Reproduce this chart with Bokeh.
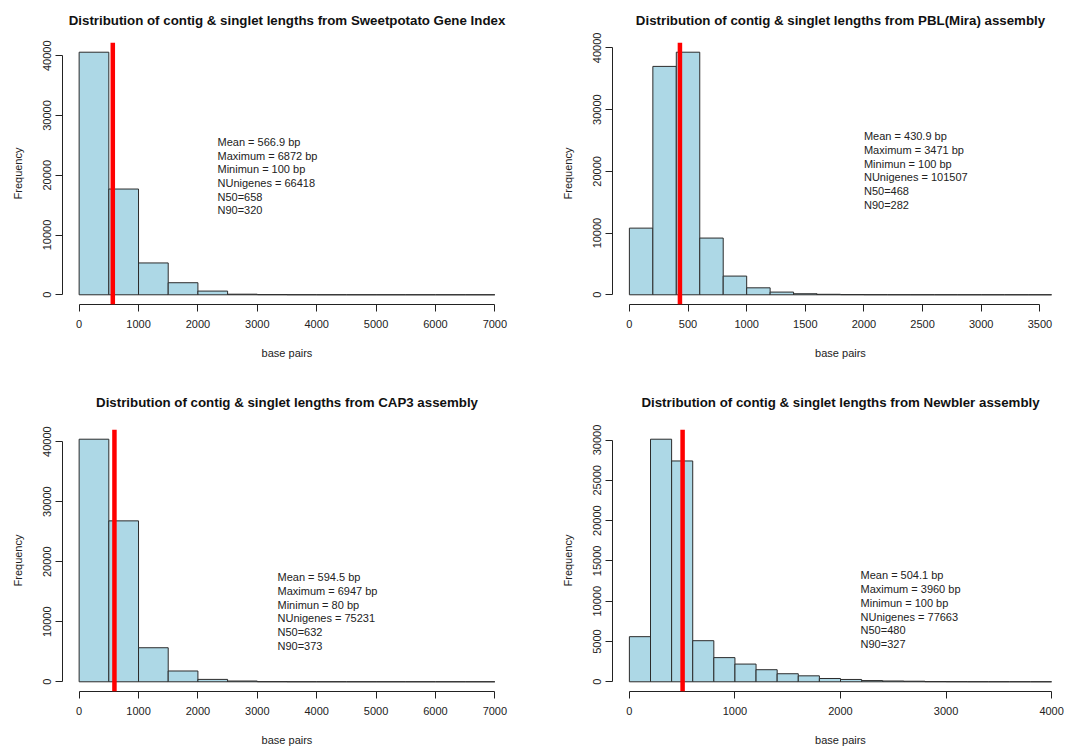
from bokeh.plotting import figure
from bokeh.models import ColumnDataSource, Span, FixedTicker, Range1d
from bokeh.layouts import gridplot
from bokeh.embed import file_html
from bokeh.resources import INLINE
from bokeh.core.properties import value

# ---------------- data ----------------
titles = [
    "Distribution of contig & singlet lengths from Sweetpotato Gene Index",
    "Distribution of contig & singlet lengths from PBL(Mira) assembly",
    "Distribution of contig & singlet lengths from CAP3 assembly",
    "Distribution of contig & singlet lengths from Newbler assembly",
]
bin_width = [500, 200, 500, 200]

counts_sgi = [40600, 17700, 5330, 2020, 620, 100, 30, 10, 5, 2, 1, 1, 1, 1]
counts_mira = [10800, 37000, 39300, 9190, 3030, 1130, 440, 170, 80, 30, 15, 8, 5, 3, 2, 1, 1, 1]
counts_cap3 = [40400, 26800, 5670, 1800, 400, 130, 20, 5, 3, 1, 1, 1, 0, 1]
counts_newbler = [5600, 30100, 27400, 5100, 3000, 2200, 1500, 1000, 740, 410, 290, 150, 100, 70,
                  20, 10, 5, 3, 2, 1]
all_counts = [counts_sgi, counts_mira, counts_cap3, counts_newbler]

means = [566.9, 430.9, 594.5, 504.1]

stats_sgi = ["Mean = 566.9 bp", "Maximum = 6872 bp", "Minimun = 100 bp", "NUnigenes = 66418", "N50=658", "N90=320"]
stats_mira = ["Mean = 430.9 bp", "Maximum = 3471 bp", "Minimun = 100 bp", "NUnigenes = 101507", "N50=468", "N90=282"]
stats_cap3 = ["Mean = 594.5 bp", "Maximum = 6947 bp", "Minimun = 80 bp", "NUnigenes = 75231", "N50=632", "N90=373"]
stats_newbler = ["Mean = 504.1 bp", "Maximum = 3960 bp", "Minimun = 100 bp", "NUnigenes = 77663", "N50=480", "N90=327"]
all_stats = [stats_sgi, stats_mira, stats_cap3, stats_newbler]

x_ticks_sgi = [0, 1000, 2000, 3000, 4000, 5000, 6000, 7000]
x_ticks_mira = [0, 500, 1000, 1500, 2000, 2500, 3000, 3500]
x_ticks_cap3 = [0, 1000, 2000, 3000, 4000, 5000, 6000, 7000]
x_ticks_newbler = [0, 1000, 2000, 3000, 4000]
all_xticks = [x_ticks_sgi, x_ticks_mira, x_ticks_cap3, x_ticks_newbler]

y_ticks_sgi = [0, 10000, 20000, 30000, 40000]
y_ticks_mira = [0, 10000, 20000, 30000, 40000]
y_ticks_cap3 = [0, 10000, 20000, 30000, 40000]
y_ticks_newbler = [0, 5000, 10000, 15000, 20000, 25000, 30000]
all_yticks = [y_ticks_sgi, y_ticks_mira, y_ticks_cap3, y_ticks_newbler]

# annotation anchor (data coords of first line, left aligned)
ann_x = [2330, 2000, 3340, 2190]
ann_y = [25600, 25700, 17400, 13200]

# ---------------- layout ----------------
FONT = "Liberation Sans"
fig_w = [536, 535, 536, 535]
fig_h = [375, 375, 374, 374]
b_left = [62, 76, 62, 76]
b_right = [25, 3, 25, 3]
b_top = [42, 42, 54, 54]
b_bottom = [71, 71, 58, 58]
title_standoff = [25, 25, 36, 36]

figs = []
for i in range(4):
    counts = all_counts[i]
    w = bin_width[i]
    n = len(counts)
    left = [w * k for k in range(n)]
    right = [w * (k + 1) for k in range(n)]
    xmax = right[-1]
    ymax = max(counts)
    p = figure(
        width=fig_w[i], height=fig_h[i],
        x_range=Range1d(-0.04 * xmax, xmax * 1.04),
        y_range=Range1d(-0.04 * ymax, ymax * 1.04),
        output_backend="svg", toolbar_location=None,
        min_border_left=b_left[i], min_border_right=b_right[i],
        min_border_top=b_top[i], min_border_bottom=b_bottom[i],
        title=titles[i],
    )
    p.title.text_font = FONT
    p.title.text_font_size = "13.3px"
    p.title.text_font_style = "bold"
    p.title.align = "center"
    p.title.vertical_align = "top"
    p.title.text_color = "#111111"
    p.title.standoff = title_standoff[i]
    p.outline_line_color = None
    p.xgrid.visible = False
    p.ygrid.visible = False
    p.background_fill_color = "white"
    p.border_fill_color = "white"

    src = ColumnDataSource(dict(left=left, right=right, top=counts, bottom=[0] * n))
    p.quad(left="left", right="right", top="top", bottom="bottom", source=src,
           fill_color="#ADD8E6", line_color="#2b2b2b", line_width=1)

    p.add_layout(Span(location=means[i], dimension="height", line_color="#FF0000", line_width=4.5))

    lines = all_stats[i]
    tsrc = ColumnDataSource(dict(
        x=[ann_x[i]] * len(lines), y=[ann_y[i]] * len(lines), text=lines,
        yoff=[13.7 * k for k in range(len(lines))]))
    p.text(x="x", y="y", text="text", y_offset="yoff", source=tsrc,
           text_font=value(FONT), text_font_size="11px", text_color="#222222",
           text_align="left", text_baseline="middle")

    xt = all_xticks[i]
    yt = all_yticks[i]
    for ax, ticks in ((p.xaxis[0], xt), (p.yaxis[0], yt)):
        ax.ticker = FixedTicker(ticks=ticks)
        ax.bounds = (ticks[0], ticks[-1])
        ax.major_tick_out = 7
        ax.major_tick_in = 0
        ax.minor_tick_out = 0
        ax.minor_tick_in = 0
        ax.axis_line_color = "#222222"
        ax.major_tick_line_color = "#222222"
        ax.major_label_text_font = FONT
        ax.major_label_text_font_size = "11px"
        ax.major_label_text_color = "#222222"
        ax.axis_label_text_font = FONT
        ax.axis_label_text_font_size = "11px"
        ax.axis_label_text_font_style = "normal"
        ax.axis_label_text_color = "#222222"
    p.xaxis.axis_label = "base pairs"
    p.yaxis.axis_label = "Frequency"
    p.xaxis.major_label_standoff = 8
    p.xaxis.axis_label_standoff = 16
    p.yaxis.major_label_orientation = "vertical"
    p.yaxis.major_label_standoff = 4
    p.yaxis.axis_label_standoff = 17
    figs.append(p)

grid = gridplot([[figs[0], figs[1]], [figs[2], figs[3]]], toolbar_location=None)

open("out.html", "w").write(file_html(grid, INLINE))
